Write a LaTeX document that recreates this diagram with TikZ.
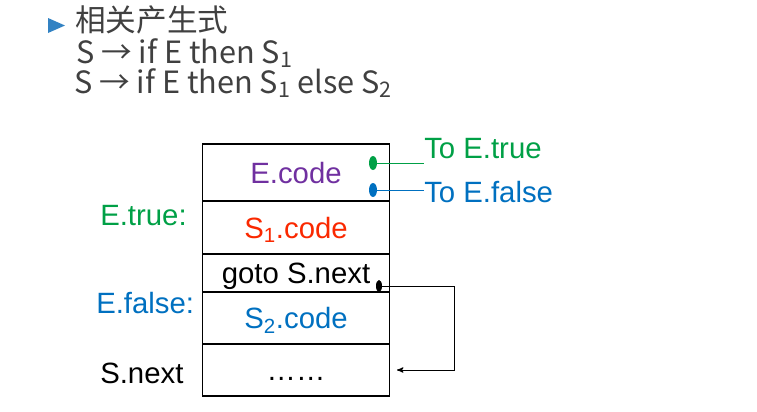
\documentclass[tikz,border=0pt]{standalone}
\usepackage{fontspec}
\setmainfont{Liberation Sans}
\newfontfamily\cjk{Noto Sans CJK SC}
\usetikzlibrary{arrows,positioning}
\definecolor{truegreen}{RGB}{0,160,70}
\definecolor{falseblue}{RGB}{0,112,192}
\definecolor{codepurple}{RGB}{112,48,160}
\definecolor{codered}{RGB}{250,40,0}
\definecolor{headgray}{RGB}{64,64,64}
\definecolor{bullet}{RGB}{50,130,195}
\tikzset{
  row/.style={draw, line width=0.8pt, minimum width=140.25pt, inner sep=0pt, outer sep=0pt,
    text height=16pt, text depth=0pt, font=\fontsize{22}{26}\selectfont},
  lbl/.style={inner sep=0pt, font=\fontsize{22}{26}\selectfont},
  head/.style={anchor=base west, inner sep=0pt, text=headgray, font=\cjk\fontsize{23}{27}\selectfont}
}

\begin{document}
\begin{tikzpicture}[x=0.75pt,y=-0.75pt]
  \useasboundingbox (0,0) rectangle (757,411); % page size

  % heading
  \fill[bullet] (48,18) -- (65,25.5) -- (48,33) -- cycle; % bullet
  \node[head] (title) at (75,31) {相关产生式};
  \node[head] (prodone) at (76,63) {S → if E then S\textsubscript{1}};
  \node[head] (prodtwo) at (74,93) {S → if E then S\textsubscript{1} else S\textsubscript{2}};

  % code layout
  \node[row, minimum height=42.75pt, text=codepurple] (ecode) at (296,172.5) {E.code};
  \node[row, minimum height=39.75pt, text=codered, below=0pt of ecode] (sone) {S\textsubscript{1}.code};
  \node[row, minimum height=28.5pt, below=0pt of sone] (gotonext) {goto S.next};
  \node[row, minimum height=39pt, text=falseblue, below=0pt of gotonext] (stwo) {S\textsubscript{2}.code};
  \node[row, minimum height=39pt, below=0pt of stwo] (snext) {\dots\dots};

  % labels on the left
  \node[lbl, anchor=base west, text=truegreen] (ltrue) at (100,225) {E.true:};
  \node[lbl, anchor=base west, text=falseblue] (lfalse) at (96,313) {E.false:};
  \node[lbl, anchor=base west] (lnext) at (100,383) {S.next};

  % jumps out of E.code
  \coordinate (tdot) at (373,163);
  \coordinate (fdot) at (373,190);
  \fill[truegreen] (tdot) ellipse (4 and 7);
  \fill[falseblue] (fdot) ellipse (4 and 7);
  \node[lbl, anchor=base west, text=truegreen] (totrue) at (424,158) {To E.true};
  \node[lbl, anchor=base west, text=falseblue] (tofalse) at (424,202) {To E.false};
  \draw[truegreen, line width=0.75pt] (tdot) -- (tdot -| totrue.west);
  \draw[falseblue, line width=0.75pt] (fdot) -- (fdot -| tofalse.west);

  % goto S.next
  \coordinate (gdot) at (379,286);
  \coordinate (bend) at (454,286);
  \coordinate (gend) at (397,370);
  \fill (gdot) ellipse (3 and 6);
  \draw[->, >=stealth', line width=0.75pt] (gdot) -- (bend) |- (gend);
\end{tikzpicture}
\end{document}
